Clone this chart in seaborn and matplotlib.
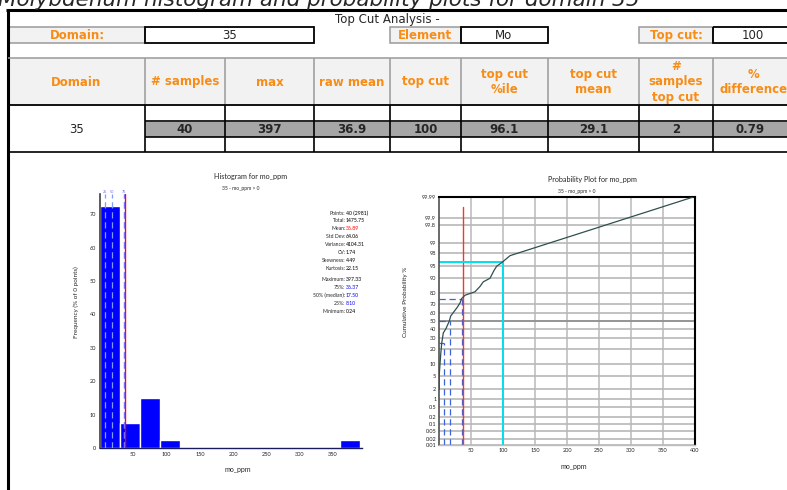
import matplotlib
matplotlib.use("Agg")
import matplotlib.pyplot as plt
from matplotlib.patches import Rectangle
from matplotlib.ticker import NullLocator
import matplotlib.transforms as mtransforms
import numpy as np
import seaborn as sns
from statistics import NormalDist

sns.set_style("white")
plt.rcParams['font.family'] = ['DejaVu Sans']

# ---- data ----
page_title = "Molybdenum histogram and probability plots for domain 35"
sheet_title = "Top Cut Analysis -"
domain = "35"
element = "Mo"
top_cut_text = "100"

col_headers = ["Domain", "# samples", "max", "raw mean", "top cut",
               "top cut\n%ile", "top cut\nmean", "#\nsamples\ntop cut", "%\ndifference"]
col_values = ["35", "40", "397", "36.9", "100", "96.1", "29.1", "2", "0.79"]

# histogram: % of samples per bin
hist_bin_range = (0, 390)
hist_n_bins = 13
hist_freq = [72.5, 7.5, 15.0, 2.5, 0, 0, 0, 0, 0, 0, 0, 0, 2.5]
hist_xticks = [50, 100, 150, 200, 250, 300, 350]
hist_yticks = [0, 10, 20, 30, 40, 50, 60, 70]

stat_names = ["Points:", "Total:", "Mean:", "Std Dev:", "Variance:", "CV:", "Skewness:",
              "Kurtosis:", "Maximum:", "75%:", "50% (median):", "25%:", "Minimum:"]
stat_values = ["40 (2981)", "1475.75", "36.89", "64.06", "4104.31", "1.74", "4.49",
               "22.15", "397.33", "36.37", "17.50", "8.10", "0.24"]
stat_colors = ["black", "black", "red", "black", "black", "black", "black",
               "black", "black", "blue", "blue", "blue", "black"]

mean_val = 36.89
pct_levels = [25, 50, 75]
pct_values = [8.10, 17.50, 36.37]
pct_labels = ["25", "50", "75"]
top_cut = 100
top_cut_pct = 96.1

# probability plot curve
prob_ppm = [0.24, 0.3, 1.6, 2.7, 4.2, 6.7, 10.9, 16.1, 18.3, 23.4, 28.6, 32.8, 35.5,
            40.6, 56.3, 64.1, 69.2, 79.7, 85.9, 90.2, 98.0, 111.0, 397.33]
prob_pct = [2.0, 5.0, 10.0, 16.0, 25.0, 36.0, 41.0, 50.0, 56.0, 61.0, 66.0, 70.5, 75.0,
            78.0, 81.0, 85.0, 88.0, 90.0, 93.5, 95.0, 96.0, 97.5, 99.99]
prob_xticks = [50, 100, 150, 200, 250, 300, 350, 400]
prob_yticks = [0.01, 0.02, 0.05, 0.1, 0.2, 0.5, 1, 2, 5, 10, 20, 30, 40, 50, 60, 70,
               80, 90, 95, 98, 99, 99.8, 99.9, 99.99]

# ---- figure ----
W, H = 787, 490
fig = plt.figure(figsize=(W / 100, H / 100), dpi=100)

def frac(x0, y0, x1, y1):
    return [x0 / W, 1 - y1 / H, (x1 - x0) / W, (y1 - y0) / H]

tab = fig.add_axes([0, 0, 1, 1])
tab.set_xlim(0, W)
tab.set_ylim(H, 0)
tab.axis('off')

ORANGE = '#f88c14'
LGRAY = '#f2f2f2'
MGRAY = '#a6a6a6'
BORDER = '#9a9a9a'

def box(x0, y0, x1, y1, fc='none', ec='black', lw=1.0, z=1):
    tab.add_patch(Rectangle((x0, y0), x1 - x0, y1 - y0, fc=fc, ec=ec, lw=lw, zorder=z))

def hline(y, x0, x1, color='black', lw=1.0):
    tab.plot([x0, x1], [y, y], color=color, lw=lw, solid_capstyle='butt', zorder=2)

def vline(x, y0, y1, color='black', lw=1.0):
    tab.plot([x, x], [y0, y1], color=color, lw=lw, solid_capstyle='butt', zorder=2)

# page title, cut off by the top edge as in the screenshot
tab.text(-2, 6, page_title, fontsize=15.5, style='italic', ha='left', va='baseline')

hline(10.5, 6, W, lw=2.2)
vline(7.5, 10, H, lw=2.2)
tab.text(387, 20, sheet_title, fontsize=8.5, ha='center', va='center')

# row of input boxes
box(8, 27, 145, 43, fc=LGRAY, ec=BORDER, lw=1.1)
tab.text(77, 35.5, "Domain:", fontsize=8.5, weight='bold', color=ORANGE, ha='center', va='center')
box(145, 27, 314, 43, lw=1.3)
tab.text(230, 35.5, domain, fontsize=8.5, ha='center', va='center')
box(390, 27, 461, 43, fc=LGRAY, ec=BORDER, lw=1.1)
tab.text(425, 35.5, "Element", fontsize=8.5, weight='bold', color=ORANGE, ha='center', va='center')
box(461, 27, 548, 43, lw=1.3)
tab.text(504, 35.5, element, fontsize=8.5, ha='center', va='center')
box(639, 27, 713, 43, fc=LGRAY, ec=BORDER, lw=1.1)
tab.text(676, 35.5, "Top cut:", fontsize=8.5, weight='bold', color=ORANGE, ha='center', va='center')
box(713, 27, 792, 43, lw=1.3)
tab.text(753, 35.5, top_cut_text, fontsize=8.5, ha='center', va='center')

# header row
cols = [8, 145, 225, 314, 390, 461, 548, 639, 713, 787]
box(8, 58, W, 105, fc=LGRAY, ec='none', z=0.5)
hline(58, 8, W, color=BORDER, lw=1.1)
for c in cols[1:-1]:
    vline(c, 58, 105, color=BORDER, lw=1.1)
for i, h in enumerate(col_headers):
    cx = (cols[i] + cols[i + 1]) / 2
    if i == len(col_headers) - 1:
        cx = 754
    tab.text(cx, 82, h, fontsize=8.5, weight='bold', color=ORANGE, ha='center', va='center',
             linespacing=1.2, multialignment='center')

# value rows
box(145, 121.5, W, 137, fc=MGRAY, ec='none', z=0.5)
hline(105, 8, W, lw=1.3)
hline(121.5, 145, W, lw=1.2)
hline(137, 145, W, lw=1.2)
hline(152, 8, W, lw=1.2)
for c in cols[1:-1]:
    vline(c, 105, 152, lw=1.2)
tab.text(77, 129, col_values[0], fontsize=8.5, ha='center', va='center')
for i, v in enumerate(col_values[1:], start=1):
    cx = (cols[i] + cols[i + 1]) / 2
    tab.text(cx, 129.5, v, fontsize=8.5, weight='bold', ha='center', va='center')

PFONT = ['Lato', 'DejaVu Sans']

# ---- histogram ----
axh = fig.add_axes(frac(100, 194, 361.7, 448.3))
axh.set_facecolor('none')
edges = np.linspace(hist_bin_range[0], hist_bin_range[1], hist_n_bins + 1)
centers = (edges[:-1] + edges[1:]) / 2
sns.histplot(x=centers, weights=hist_freq, bins=hist_n_bins, binrange=hist_bin_range,
             color='#0000ff', alpha=1, edgecolor='white', linewidth=1.0, ax=axh)
axh.set_xlim(0, 393)
axh.set_ylim(0, 76)
for v in pct_values:
    axh.axvline(v, color='#7f9cff', ls=(0, (5, 3)), lw=0.9, zorder=3)
axh.axvline(mean_val, color='red', lw=1.0, zorder=3)
axh.axvline(pct_values[2], color='#7a6cff', ls=(0, (5, 3)), lw=0.9, zorder=4)
trh = mtransforms.blended_transform_factory(axh.transData, axh.transAxes)
for v, lab in zip(pct_values, pct_labels):
    axh.text(v, 1.0, lab, transform=trh, fontsize=2.5, color='#6a6aff', ha='center', va='bottom')
axh.set_xticks(hist_xticks)
axh.set_yticks(hist_yticks)
axh.tick_params(labelsize=4, length=2, width=0.5, pad=1, colors='#222222')
for lab in axh.get_xticklabels() + axh.get_yticklabels():
    lab.set_family(PFONT)
axh.set_xlabel("")
axh.set_ylabel("")
for s in ['top', 'right']:
    axh.spines[s].set_visible(False)
axh.spines['left'].set_color('#404040')
axh.spines['left'].set_linewidth(1.2)
axh.spines['bottom'].set_color('#1a1a5e')
axh.spines['bottom'].set_linewidth(1.0)

tab.text(251, 176, "Histogram for mo_ppm", fontsize=5.2, family=PFONT, ha='center', va='center')
tab.text(241, 188, "35 - mo_ppm > 0", fontsize=3.6, family=PFONT, ha='center', va='center')
tab.text(76, 302, "Frequency (% of 0 points)", fontsize=4.6, family=PFONT, rotation=90,
         ha='center', va='center')
tab.text(238, 469, "mo_ppm", fontsize=5, family=PFONT, ha='center', va='center')

for i, (n, v, c) in enumerate(zip(stat_names, stat_values, stat_colors)):
    y = 213 + i * 7.9 + (3.5 if i >= 8 else 0)
    tab.text(345.5, y, n, fontsize=3.7, family=PFONT, ha='right', va='center')
    tab.text(346, y, v, fontsize=3.7, family=PFONT, color=c, ha='left', va='center')

# ---- probability plot ----
nd = NormalDist()
_inv = np.vectorize(nd.inv_cdf, otypes=[float])
_cdf = np.vectorize(nd.cdf, otypes=[float])

def p_to_z(p):
    p = np.clip(np.asarray(p, dtype=float) / 100.0, 1e-9, 1 - 1e-9)
    return _inv(p)

def z_to_p(z):
    return _cdf(np.asarray(z, dtype=float)) * 100.0

axp = fig.add_axes(frac(439, 197, 695, 445))
axp.set_facecolor('none')
axp.set_yscale('function', functions=(p_to_z, z_to_p))
axp.set_xlim(0, 400)
axp.set_ylim(0.01, 99.99)
axp.set_xticks(prob_xticks)
axp.set_yticks(prob_yticks)
axp.set_yticklabels([f"{t:g}" for t in prob_yticks])
axp.yaxis.set_minor_locator(NullLocator())
axp.tick_params(labelsize=4, length=0, pad=2, colors='#222222')
for lab in axp.get_xticklabels() + axp.get_yticklabels():
    lab.set_family(PFONT)
for t in prob_xticks:
    axp.axvline(t, color='#c8c8c8', lw=1.4, zorder=0)
for t in prob_yticks:
    axp.axhline(t, color='#b8b8b8', lw=1.2, zorder=0)
axp.axhline(50, color='#8a8a8a', lw=1.1, zorder=0.5)

for lvl, v in zip(pct_levels, pct_values):
    axp.plot([v, v], [0.01, lvl], color='#3b64d8', ls=(0, (5, 3)), lw=0.9, zorder=2)
    axp.plot([0, v], [lvl, lvl], color='#3b64d8', ls=(0, (5, 3)), lw=0.9, zorder=2)
axp.plot([mean_val, mean_val], [0.01, 99.97], color='#ff3030', lw=1.0, zorder=2)
axp.plot([top_cut, top_cut], [0.01, top_cut_pct], color='#00e0ee', lw=1.4, zorder=2)
axp.plot([0, top_cut], [top_cut_pct, top_cut_pct], color='#00e0ee', lw=1.4, zorder=2)

sns.lineplot(x=prob_ppm, y=prob_pct, sort=False, color='#2f4f4f', lw=0.9, ax=axp, zorder=3)
axp.set_xlabel("")
axp.set_ylabel("")
axp.spines['top'].set_color('black')
axp.spines['top'].set_linewidth(1.5)
axp.spines['right'].set_color('black')
axp.spines['right'].set_linewidth(1.5)
axp.spines['left'].set_color('#505050')
axp.spines['left'].set_linewidth(1.2)
axp.spines['bottom'].set_color('#bdbdbd')
axp.spines['bottom'].set_linewidth(1.0)

tab.text(592, 179, "Probability Plot for mo_ppm", fontsize=5.2, family=PFONT, ha='center', va='center')
tab.text(577, 191, "35 - mo_ppm > 0", fontsize=3.6, family=PFONT, ha='center', va='center')
tab.text(405, 302, "Cumulative Probability %", fontsize=4.6, family=PFONT, rotation=90,
         ha='center', va='center')
tab.text(574, 466, "mo_ppm", fontsize=5, family=PFONT, ha='center', va='center')

fig.savefig("out.png", dpi=100)
